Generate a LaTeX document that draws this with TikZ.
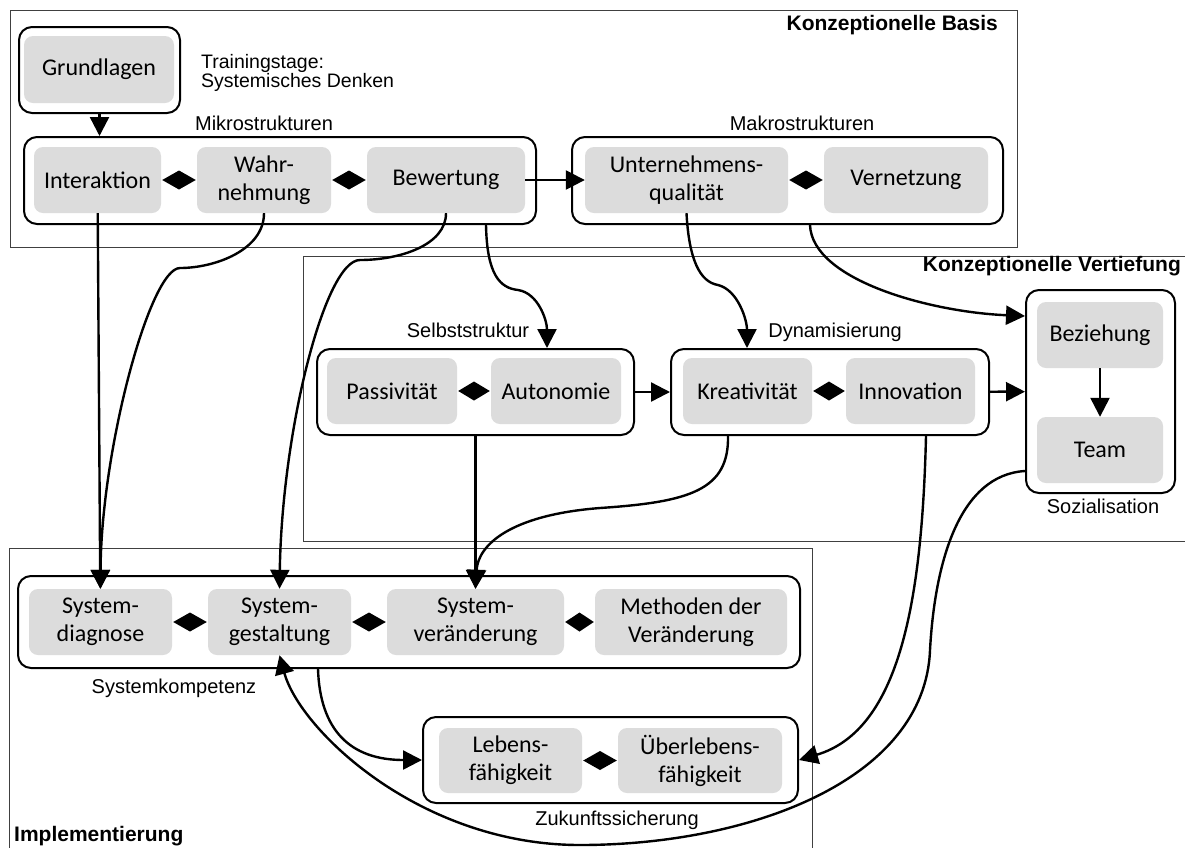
\documentclass[tikz,border=0pt]{standalone}
\usepackage{fontspec}
\usepackage{tikz}
\usetikzlibrary{arrows.meta,calc}
\newfontfamily\boxfont{Carlito}
\newfontfamily\lblfont{Liberation Sans}
\definecolor{boxgray}{HTML}{DCDCDC}

\tikzset{
  frame/.style={draw=black!75, line width=0.9pt},
  grp/.style={draw, line width=2pt, rounded corners=13pt, fill=white, inner sep=0pt},
  item/.style={fill=boxgray, rounded corners=9pt, align=center, inner sep=0pt,
    font=\boxfont\fontsize{24}{28}\selectfont},
  lbl/.style={font=\lblfont\fontsize{20}{20}\selectfont, inner sep=0pt},
  ttl/.style={font=\lblfont\bfseries\fontsize{21}{21}\selectfont, inner sep=0pt},
  flow/.style={line width=2.4pt, -{Triangle[length=19pt,width=19pt]}},
  dia/.style={fill=black},
}

\begin{document}
\begin{tikzpicture}[x=1pt,y=-1pt] % Pixelkoordinaten, y nach unten
        \useasboundingbox (0,0) rectangle (1185,847);
        % Rahmen der drei Bereiche
        \draw[frame] (10,10) rectangle (1017,247);
        \draw[frame] (303,256) rectangle (1195,541);
        \draw[frame] (9,548) rectangle (812,870);
        \node[ttl, anchor=base east] (basis) at (998,30) {Konzeptionelle Basis};
        \node[ttl, anchor=base east] (vertief) at (1181,271) {Konzeptionelle Vertiefung};
        \node[ttl, anchor=base west] (impl) at (14,841) {Implementierung};

        % Gruppen
        \node[grp, minimum width=161pt, minimum height=86pt] (grdgrp) at (99.5,70) {};
        \node[grp, minimum width=512pt, minimum height=87pt] (mikro) at (280,180.5) {};
        \node[grp, minimum width=431pt, minimum height=87pt] (makro) at (787.5,180.5) {};
        \node[grp, minimum width=317pt, minimum height=86pt] (selbst) at (475.5,392) {};
        \node[grp, minimum width=318pt, minimum height=86pt] (dyn) at (830,392) {};
        \node[grp, minimum width=149pt, minimum height=203pt] (soz) at (1100.5,391.5) {};
        \node[grp, minimum width=782pt, minimum height=92pt] (syskomp) at (409,622) {};
        \node[grp, minimum width=375pt, minimum height=86pt] (zuk) at (610.5,760) {};

        % Beschriftungen der Gruppen
        \node[lbl, font=\lblfont\fontsize{19.5}{17.5}\selectfont, anchor=north west, align=left] (train) at (201,54) {Trainingstage:\\Systemisches Denken};
        \node[lbl, anchor=base] (mikrolbl) at (264,130) {Mikrostrukturen};
        \node[lbl, anchor=base] (makrolbl) at (802,130) {Makrostrukturen};
        \node[lbl, anchor=base] (selbstlbl) at (468,337) {Selbststruktur};
        \node[lbl, anchor=base] (dynlbl) at (835,337) {Dynamisierung};
        \node[lbl, anchor=base] (sozlbl) at (1103,513) {Sozialisation};
        \node[lbl, anchor=base] (sklbl) at (174,693) {Systemkompetenz};
        \node[lbl, anchor=base] (zuklbl) at (617,825) {Zukunftssicherung};

        % Bausteine
        \node[item, minimum width=150pt, minimum height=67pt] (grd) at (99,69.5) {Grundlagen};
        \node[item, minimum width=127pt, minimum height=66pt] (inter) at (97.5,180) {Interaktion};
        \node[item, minimum width=134pt, minimum height=66pt] (wahr) at (264,180) {Wahr-\\nehmung};
        \node[item, minimum width=158pt, minimum height=66pt] (bew) at (446,180) {Bewertung};
        \node[item, minimum width=203pt, minimum height=66pt] (unt) at (686.5,180) {Unternehmens-\\qualität};
        \node[item, minimum width=164pt, minimum height=66pt] (vern) at (906,180) {Vernetzung};
        \node[item, minimum width=130pt, minimum height=66pt] (pass) at (392,391) {Passivität};
        \node[item, minimum width=130pt, minimum height=66pt] (auto) at (556,391) {Autonomie};
        \node[item, minimum width=129pt, minimum height=66pt] (kreat) at (747.5,391) {Kreativität};
        \node[item, minimum width=129pt, minimum height=66pt] (innov) at (910.5,391) {Innovation};
        \node[item, minimum width=126pt, minimum height=66pt] (bez) at (1100,335) {Beziehung};
        \node[item, minimum width=126pt, minimum height=66pt] (team) at (1100,450) {Team};
        \node[item, minimum width=143pt, minimum height=66pt] (sdiag) at (100.5,622) {System-\\diagnose};
        \node[item, minimum width=143pt, minimum height=66pt] (sgest) at (279.5,622) {System-\\gestaltung};
        \node[item, minimum width=177pt, minimum height=66pt] (sver) at (475.5,622) {System-\\veränderung};
        \node[item, minimum width=192pt, minimum height=66pt] (meth) at (691,622) {Methoden der\\Veränderung};
        \node[item, minimum width=143pt, minimum height=65pt] (leb) at (510.5,760.5) {Lebens-\\fähigkeit};
        \node[item, minimum width=164pt, minimum height=65pt] (ueb) at (700,760.5) {Überlebens-\\fähigkeit};

        % Wechselwirkungen (Rauten zwischen den Bausteinen)
        \foreach \a/\b in {inter/wahr, wahr/bew, unt/vern, pass/auto, kreat/innov,
                           sdiag/sgest, sgest/sver, sver/meth, leb/ueb}
          \fill[dia] ([xshift=1pt]\a.east) -- ($(\a.east)!0.5!(\b.west)+(0,9.5)$)
                -- ([xshift=-1pt]\b.west) -- ($(\a.east)!0.5!(\b.west)+(0,-9.5)$) -- cycle;

        % Anschlusspunkte an den Gruppen
        \coordinate (mkout) at ($(mikro.south east)+(-51,0)$);
        \coordinate (slin) at ($(selbst.north)+(71.5,0)$);
        \coordinate (dyin) at ($(dyn.north)+(-83,0)$);
        \coordinate (mkout2) at ($(makro.south)+(22.5,0)$);
        \coordinate (sozin) at ($(soz.north west)+(0,27)$);
        \coordinate (dyout1) at ($(dyn.south west)+(58,0)$);
        \coordinate (dyout2) at ($(dyn.south west)+(256,0)$);
        \coordinate (sozout) at ($(soz.south west)+(0,-23)$);
        \coordinate (skout) at ($(syskomp.south west)+(301,0)$);

        % Pfeile
        \draw[flow] (grdgrp.south) -- (grdgrp.south |- mikro.north);
        \draw[flow] (bew) -- (unt);
        \draw[flow] (selbst) -- (dyn);
        \draw[flow] (dyn) -- (soz);
        \draw[flow] (bez) -- (team);
        \draw[flow] (inter) -- (sdiag);
        \draw[flow] (wahr.south) .. controls (264,250) and (215,268) .. (180,268)
                .. controls (150,268) and (101,450) .. (sdiag.north);
        \draw[flow] (bew.south) .. controls (446,245) and (400,260) .. (360,260)
                .. controls (325,260) and (282,430) .. (sgest.north);
        \draw[flow] (mkout) .. controls (487,275) and (500,288) .. (518,290)
                .. controls (538,293) and (547,320) .. (slin);
        \draw[flow] (unt.south) .. controls (689,260) and (700,282) .. (718,285)
                .. controls (738,290) and (747,320) .. (dyin);
        \draw[flow] (mkout2) .. controls (812,280) and (930,312) .. (sozin);
        \draw[flow] (selbst.south) -- (sver.north);
        \draw[flow] (dyout1) .. controls (729,490) and (690,502) .. (600,508)
                .. controls (510,515) and (478,545) .. (sver.north);
        \draw[flow] (dyout2) .. controls (922,600) and (900,730) .. (zuk.east);
        \draw[flow] (sozout) .. controls (960,475) and (935,560) .. (930,650)
                .. controls (925,780) and (750,845) .. (580,845)
                .. controls (420,845) and (300,730) .. (sgest.south);
        \draw[flow] (skout) .. controls (320,730) and (350,760) .. (zuk.west);
\end{tikzpicture}
\end{document}
